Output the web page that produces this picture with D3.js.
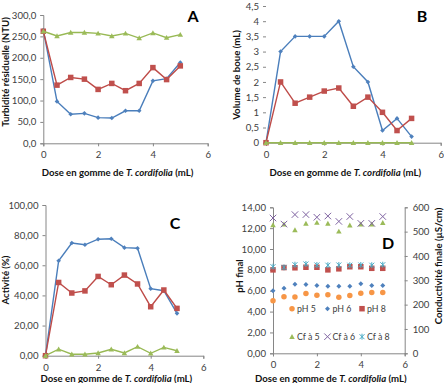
<!DOCTYPE html>
<html><head><meta charset="utf-8">
<script src="https://cdn.jsdelivr.net/npm/d3@7"></script>
<style>
body{margin:0;background:#fff}
svg text{font-family:Lato,"Open Sans",sans-serif}
</style>
</head><body>
<svg id="chart" width="444" height="383"></svg>
<script>
// ---------- data ----------
const doses = [0, 0.5, 1, 1.5, 2, 2.5, 3, 3.5, 4, 4.5, 5];
const xTicks = [0, 2, 4, 6];

// A: turbidity (NTU)
const turbBlue  = [265, 98, 68, 70, 60, 59, 76, 76, 146, 151, 189];
const turbRed   = [262, 136, 154, 150, 126, 140, 123, 140, 177, 149, 181];
const turbGreen = [262, 251, 259, 259, 257, 251, 257, 246, 258, 247, 254];
const turbTicks = [0, 50, 100, 150, 200, 250, 300];

// B: sludge volume (mL)
const boueBlue  = [0, 3, 3.5, 3.5, 3.5, 4, 2.5, 2, 0.4, 0.8, 0.2];
const boueRed   = [0, 2, 1.3, 1.5, 1.7, 1.8, 1.2, 1.5, 1.0, 0.4, 0.8];
const boueGreen = [0, 0, 0, 0, 0, 0, 0, 0, 0, 0, 0];
const boueTicks = [0, 0.5, 1, 1.5, 2, 2.5, 3, 3.5, 4, 4.5];

// C: activity (%)
const actBlue  = [0, 63, 74.8, 73.6, 77.3, 77.6, 71.7, 71.3, 44.5, 43.1, 28.1];
const actRed   = [0, 48.6, 41.6, 43, 52.6, 47.1, 53.5, 47.6, 32.5, 43.6, 31.4];
const actGreen = [0, 4.3, 1, 1, 1.8, 4.3, 1.8, 6, 1.6, 5.5, 3.3];
const actTicks = [0, 20, 40, 60, 80, 100];

// D: final pH and conductivity
const ph5 = [5.05, 5.42, 5.4, 5.74, 5.56, 5.62, 5.38, 5.55, 5.77, 5.83, 5.82];
const ph6 = [6.0, 6.23, 6.63, 6.6, 6.5, 6.43, 6.43, 6.42, 6.66, 6.5, 6.5];
const ph8 = [8.0, 8.22, 8.2, 8.25, 8.25, 8.0, 8.1, 8.3, 8.3, 8.15, 8.15];
const cf5 = [527, 530, 507, 533, 537, 533, 501, 526, 530, 530, 536];
const cf6 = [556, 531, 570, 570, 559, 564, 542, 562, 534, 534, 562];
const cf8 = [356, 353, 364, 367, 363, 362, 363, 362, 363, 362, 364];
const phTicks = [0, 2, 4, 6, 8, 10, 12, 14];
const cfTicks = [0, 100, 200, 300, 400, 500, 600];
const legendLabels = ["pH 5", "pH 6", "pH 8", "Cf à 5", "Cf à 6", "Cf à 8"];

// ---------- style ----------
const C = {
  blueL:"#4A7EBB", blue:"#4F81BD", redL:"#BE4B48", red:"#C0504D",
  greenL:"#98B954", green:"#9BBB59", purple:"#8064A2", cyan:"#4BACC6", orange:"#F79646",
  axis:"#868686", text:"#404040"
};
const FS = 9.6;
const svg = d3.select("#chart");
const comma = f => (v => d3.format(f)(v).replace(".", ","));

function sym(g, type, x, y, color, size) {
  const s = size / 2;
  let d;
  if (type === "x") {
    d = `M${x-s},${y-s}L${x+s},${y+s}M${x-s},${y+s}L${x+s},${y-s}`;
    g.append("path").attr("d", d).attr("stroke", color).attr("stroke-width", 1).attr("fill", "none");
    return;
  }
  if (type === "star") {
    d = `M${x-s},${y-s}L${x+s},${y+s}M${x-s},${y+s}L${x+s},${y-s}M${x},${y-s-0.5}L${x},${y+s+0.5}`;
    g.append("path").attr("d", d).attr("stroke", color).attr("stroke-width", 1).attr("fill", "none");
    return;
  }
  if (type === "diamond") d = `M${x},${y-s}L${x+s},${y}L${x},${y+s}L${x-s},${y}Z`;
  else if (type === "square") d = `M${x-s},${y-s}h${size}v${size}h${-size}Z`;
  else if (type === "triangle") d = `M${x},${y-s}L${x+s},${y+s*0.8}L${x-s},${y+s*0.8}Z`;
  else if (type === "circle") d = `M${x-s},${y}a${s},${s} 0 1,0 ${size},0a${s},${s} 0 1,0 ${-size},0Z`;
  g.append("path").attr("d", d).attr("fill", color);
}

function xAxis(g, x, y0, titleY) {
  const ax = g.append("g").attr("transform", `translate(0,${y0})`)
    .call(d3.axisBottom(x).tickValues(xTicks).tickSize(3).tickPadding(5).tickFormat(d3.format("d")));
  ax.select(".domain").attr("stroke", C.axis);
  ax.selectAll(".tick line").attr("stroke", C.axis);
  ax.selectAll("text").attr("fill", C.text).attr("font-size", FS);
  const t = g.append("text").attr("x", (x.range()[0] + x.range()[1]) / 2 - 8).attr("y", titleY)
    .attr("text-anchor", "middle").attr("font-size", FS).attr("font-weight", "bold").attr("fill", "#111");
  t.append("tspan").text("Dose en gomme de ");
  t.append("tspan").attr("font-style", "italic").text("T. cordifolia");
  t.append("tspan").text(" (mL)");
}

function yTitle(g, txt, cx, cy) {
  g.append("text").attr("transform", `translate(${cx},${cy}) rotate(-90)`)
    .attr("text-anchor", "middle").attr("dy", "0.35em").attr("font-size", FS)
    .attr("font-weight", "bold").attr("fill", "#111").text(txt);
}

function letter(g, txt, cx, cy) {
  g.append("text").attr("x", cx).attr("y", cy).attr("text-anchor", "middle").attr("dy", "0.36em")
    .attr("font-size", 16).attr("font-weight", "bold").attr("font-family", "Liberation Sans, Arial, sans-serif")
    .attr("fill", "#000").text(txt);
}

function lineSeries(g, x, y, vals, lineColor, markColor, shape, msize) {
  const line = d3.line().x((d, i) => x(doses[i])).y(d => y(d));
  g.append("path").datum(vals).attr("d", line).attr("fill", "none")
    .attr("stroke", lineColor).attr("stroke-width", 1.4);
  vals.forEach((v, i) => sym(g, shape, x(doses[i]), y(v), markColor, msize));
}

function panelLine(o) {
  const g = svg.append("g");
  const x = d3.scaleLinear().domain([0, 6]).range(o.xr);
  const y = d3.scaleLinear().domain(o.yd).range(o.yr);
  const ay = g.append("g").attr("transform", `translate(${o.xr[0]},0)`)
    .call(d3.axisLeft(y).tickValues(o.yTicks).tickSize(3).tickPadding(4).tickFormat(o.fmt));
  ay.select(".domain").attr("stroke", o.noYLine ? "none" : C.axis);
  ay.selectAll(".tick line").attr("stroke", C.axis);
  ay.selectAll("text").attr("fill", C.text).attr("font-size", FS);
  xAxis(g, x, o.yr[0], o.titleY);
  yTitle(g, o.ytitle, o.yt[0], o.yt[1]);
  letter(g, o.letter, o.lp[0], o.lp[1]);
  lineSeries(g, x, y, o.s[0], C.blueL, C.blue, "diamond", 4.6);
  lineSeries(g, x, y, o.s[1], C.redL, C.red, "square", 5.5);
  lineSeries(g, x, y, o.s[2], C.greenL, C.green, "triangle", 5.5);
}

panelLine({xr:[43.3, 207.7], yd:[0, 300], yr:[143.3, 15], yTicks: turbTicks, fmt: comma(".1f"),
  titleY: 175.5, ytitle: "Turbidité résiduelle (NTU)", yt:[6, 72], letter:"A", lp:[193, 16],
  s:[turbBlue, turbRed, turbGreen]});
panelLine({xr:[266, 440.7], yd:[0, 4.5], yr:[142.7, 6], yTicks: boueTicks, fmt: v => String(v).replace(".", ","),
  noYLine: true, titleY: 175.5, ytitle: "Volume de boue (mL)", yt:[237, 75], letter:"B", lp:[422, 16],
  s:[boueBlue, boueRed, boueGreen]});
panelLine({xr:[45.5, 203.3], yd:[0, 100], yr:[355.7, 205], yTicks: actTicks, fmt: comma(".2f"),
  titleY: 381.5, ytitle: "Activité (%)", yt:[6, 280], letter:"C", lp:[175, 223],
  s:[actBlue, actRed, actGreen]});

// ---------- panel D ----------
(function () {
  const g = svg.append("g");
  const x = d3.scaleLinear().domain([0, 6]).range([273, 404.7]);
  const yL = d3.scaleLinear().domain([0, 14]).range([353.3, 207.3]);
  const yR = d3.scaleLinear().domain([0, 600]).range([353.3, 207.3]);
  const al = g.append("g").attr("transform", "translate(273,0)")
    .call(d3.axisLeft(yL).tickValues(phTicks).tickSize(3).tickPadding(4).tickFormat(comma(".2f")));
  const ar = g.append("g").attr("transform", "translate(404.7,0)")
    .call(d3.axisRight(yR).tickValues(cfTicks).tickSize(3).tickPadding(5).tickFormat(d3.format("d")));
  [al, ar].forEach(a => {
    a.select(".domain").attr("stroke", C.axis);
    a.selectAll(".tick line").attr("stroke", C.axis);
    a.selectAll("text").attr("fill", C.text).attr("font-size", FS);
  });
  xAxis(g, x, 353.3, 381.5);
  yTitle(g, "pH final", 240, 276);
  yTitle(g, "Conductivité finale (µS/cm)", 439, 266);
  letter(g, "D", 388, 243);

  const specs = [
    {v: ph5, y: yL, c: C.orange, s: "circle", z: 5.5},
    {v: ph6, y: yL, c: C.blue, s: "diamond", z: 5},
    {v: ph8, y: yL, c: C.red, s: "square", z: 5.5},
    {v: cf5, y: yR, c: C.green, s: "triangle", z: 5.5},
    {v: cf6, y: yR, c: C.purple, s: "x", z: 6.5},
    {v: cf8, y: yR, c: C.cyan, s: "star", z: 5}
  ];
  specs.forEach(sp => sp.v.forEach((v, i) => sym(g, sp.s, x(doses[i]), sp.y(v), sp.c, sp.z)));

  const lx = [292, 327.5, 362], ly = [308.7, 336.7];
  specs.forEach((sp, k) => {
    const mx = lx[k % 3], my = ly[Math.floor(k / 3)];
    sym(g, sp.s, mx, my, sp.c, sp.z);
    g.append("text").attr("x", mx + 5).attr("y", my).attr("dy", "0.35em")
      .attr("font-size", 8.8).attr("fill", C.text).text(legendLabels[k]);
  });
})();
</script>
</body></html>
